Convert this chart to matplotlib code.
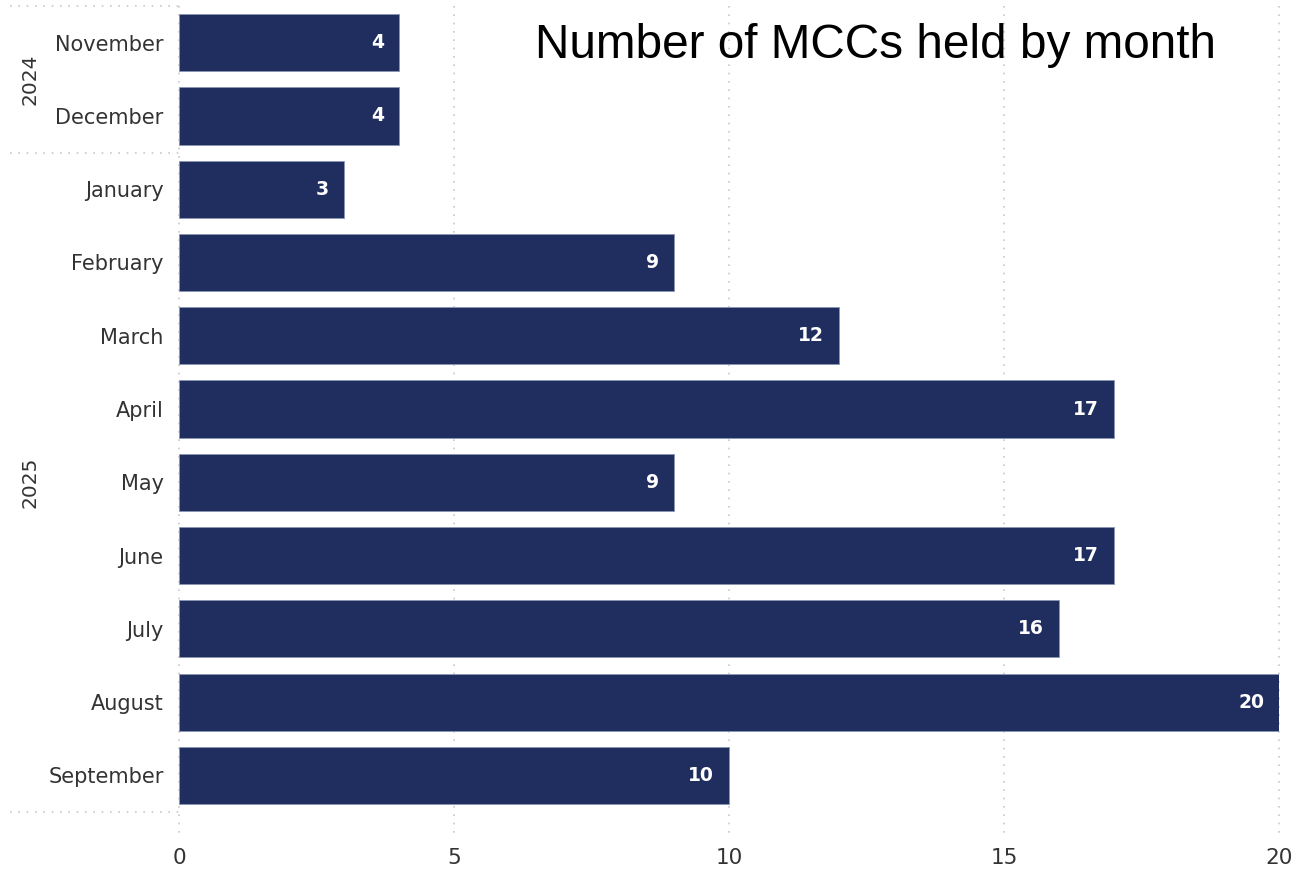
import matplotlib
matplotlib.use('Agg')
import matplotlib.pyplot as plt
import matplotlib.transforms as mtransforms

MONTHS = ['November', 'December', 'January', 'February', 'March', 'April',
          'May', 'June', 'July', 'August', 'September']
YEARS = ['2024', '2024', '2025', '2025', '2025', '2025',
         '2025', '2025', '2025', '2025', '2025']
MCC_COUNTS = [4, 4, 3, 9, 12, 17, 9, 17, 16, 20, 10]
X_TICKS = [0, 5, 10, 15, 20]

BAR_COLOR = '#1f2e5e'
TEXT_COLOR = '#333333'
GRID_COLOR = '#c8c8c8'

fig = plt.figure(figsize=(12.99, 8.72), dpi=100)
ax = fig.add_axes([0.1378, 0.0688, 0.8468, 0.9243])

ypos = list(range(len(MONTHS)))
bars = ax.barh(ypos, MCC_COUNTS, height=0.78, color=BAR_COLOR,
               edgecolor='#8a94b4', linewidth=0.6, zorder=3)

for bar, val in zip(bars, MCC_COUNTS):
    ax.text(bar.get_width() - 0.27, bar.get_y() + bar.get_height() / 2, str(val),
            ha='right', va='center', color='white', fontsize=13.5,
            fontweight='bold', zorder=4)

ax.set_xlim(0, 20)
ax.set_ylim(len(MONTHS) - 0.5, -0.5)
ax.set_xticks(X_TICKS)
ax.set_xticklabels([str(t) for t in X_TICKS], fontsize=15.5, color=TEXT_COLOR)
ax.set_yticks(ypos)
ax.set_yticklabels(MONTHS, fontsize=15, color=TEXT_COLOR)
ax.tick_params(axis='both', length=0)
ax.tick_params(axis='y', pad=11)
ax.tick_params(axis='x', pad=26)

for t in X_TICKS:
    ax.plot([t, t], [-0.5, len(MONTHS) - 0.2], color=GRID_COLOR,
            linestyle=(0, (1, 4)), linewidth=1.2, zorder=1, clip_on=False)
for s in ax.spines.values():
    s.set_visible(False)

# year groups: dotted separators running into the label column
trans = mtransforms.blended_transform_factory(fig.transFigure, ax.transData)
years_order = []
for y in YEARS:
    if y not in years_order:
        years_order.append(y)
bounds = [-0.5]
for yr in years_order:
    idx = [i for i, y in enumerate(YEARS) if y == yr]
    bounds.append(idx[-1] + 0.5)
    mid = (idx[0] + idx[-1]) / 2
    ax.text(0.023, mid, yr, transform=trans, rotation=90, ha='center',
            va='center', fontsize=14.5, color=TEXT_COLOR)
for b in bounds:
    ax.plot([0.008, 0.1378], [b, b], transform=trans, color=GRID_COLOR,
            linestyle=(0, (1, 4)), linewidth=1.2, clip_on=False)

fig.text(0.6736, 0.948, 'Number of MCCs held by month', ha='center', va='center',
         fontsize=34.4, family='Liberation Sans', color='black')

fig.savefig('out.png', dpi=100)
